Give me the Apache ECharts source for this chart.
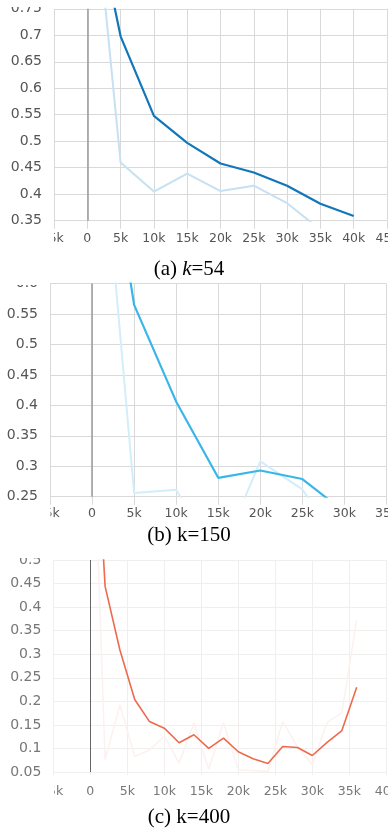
<!DOCTYPE html>
<html>
<head>
<meta charset="utf-8">
<script src="https://cdn.jsdelivr.net/npm/echarts@6/dist/echarts.min.js"></script>
<style>
html,body{margin:0;padding:0;background:#fff;}
#chart{width:388px;height:831px;}
</style>
</head>
<body>
<div id="chart"></div>
<script>
// Panel (a) k=54
const aSteps = [0, 5000, 10000, 15000, 20000, 25000, 30000, 35000, 40000];
const aSmoothed = [1.0, 0.698, 0.548, 0.497, 0.458, 0.441, 0.416, 0.382, 0.359];
const aRaw = [1.1, 0.46, 0.405, 0.439, 0.406, 0.416, 0.383, 0.333, 0.325];
// Panel (b) k=150
const bSteps = [0, 5000, 10000, 15000, 20000, 25000, 30000];
const bSmoothed = [1.0, 0.565, 0.406, 0.281, 0.293, 0.279, 0.225];
const bRaw = [1.04, 0.256, 0.2615, 0.146, 0.308, 0.262, 0.16];
// Panel (c) k=400
const cSteps = [0, 2000, 4000, 6000, 8000, 10000, 12000, 14000, 16000, 18000, 20000, 22000, 24000, 26000, 28000, 30000, 32000, 34000, 36000];
const cSmoothed = [1.0, 0.444, 0.309, 0.204, 0.157, 0.143, 0.112, 0.129, 0.100, 0.122, 0.093, 0.078, 0.068, 0.104, 0.102, 0.085, 0.113, 0.138, 0.230];
const cRaw = [1.0, 0.076, 0.193, 0.083, 0.097, 0.126, 0.069, 0.154, 0.056, 0.154, 0.055, 0.053, 0.051, 0.157, 0.104, 0.066, 0.155, 0.176, 0.373];
// Axis ranges / captions
const yRanges = [[0.35, 0.75], [0.25, 0.6], [0.05, 0.5]];
const xRanges = [[-5000, 45000], [-5000, 35000], [-5000, 40000]];
const captions = ['(a) {i|k}=54', '(b) k=150', '(c) k=400'];

const pair = (xs, ys) => xs.map((x, i) => [x, ys[i]]);
const kfmt = v => v === 0 ? '0' : (v / 1000) + 'k';

const grids = [
  {left: 54, top: 8.8, width: 333, height: 211.9},
  {left: 50, top: 283.5, width: 336.5, height: 213.2},
  {left: 53.3, top: 560, width: 333, height: 212}
];
const gridColors = ['#d9d9d9', '#d9d9d9', '#f1eeee'];
const labelColors = ['#555', '#555', '#777'];
const xMargins = [12, 11, 13];

const chart = echarts.init(document.getElementById('chart'), null, {renderer: 'canvas'});

const option = {
  animation: false,
  backgroundColor: '#fff',
  grid: grids.map(g => Object.assign({containLabel: false, outerBoundsMode: 'none'}, g)),
  xAxis: xRanges.map((r, i) => ({
    type: 'value', gridIndex: i, min: r[0], max: r[1], interval: 5000,
    axisLine: {show: false},
    axisTick: {show: true, length: i === 2 ? 3 : 8, lineStyle: {color: gridColors[i]}},
    splitLine: {show: true, lineStyle: {color: gridColors[i], width: 1}},
    axisLabel: {formatter: kfmt, color: labelColors[i], fontFamily: 'DejaVu Sans', fontSize: 12.5, margin: xMargins[i]}
  })),
  yAxis: yRanges.map((r, i) => ({
    type: 'value', gridIndex: i, min: r[0], max: r[1], interval: 0.05,
    axisLine: {show: false},
    axisTick: {show: true, length: 6, lineStyle: {color: gridColors[i]}},
    splitLine: {show: true, lineStyle: {color: gridColors[i], width: 1}},
    axisLabel: {color: labelColors[i], fontFamily: 'DejaVu Sans', fontSize: 14, margin: 12}
  })),
  series: [
    {type: 'line', xAxisIndex: 0, yAxisIndex: 0, data: pair(aSteps, aRaw), showSymbol: false, clip: true,
     lineStyle: {color: '#c6e1f1', width: 2}, z: 2,
     markLine: {silent: true, symbol: ['none', 'none'], label: {show: false}, lineStyle: {color: '#9a9a9a', width: 1.5, type: 'solid'}, data: [{xAxis: 0}]}},
    {type: 'line', xAxisIndex: 0, yAxisIndex: 0, data: pair(aSteps, aSmoothed), showSymbol: false, clip: true,
     lineStyle: {color: '#1176ba', width: 2.2}, z: 3},
    {type: 'line', xAxisIndex: 1, yAxisIndex: 1, data: pair(bSteps, bRaw), showSymbol: false, clip: true,
     lineStyle: {color: '#d2eefa', width: 2}, z: 2,
     markLine: {silent: true, symbol: ['none', 'none'], label: {show: false}, lineStyle: {color: '#9a9a9a', width: 1.5, type: 'solid'}, data: [{xAxis: 0}]}},
    {type: 'line', xAxisIndex: 1, yAxisIndex: 1, data: pair(bSteps, bSmoothed), showSymbol: false, clip: true,
     lineStyle: {color: '#38b6ea', width: 2.2}, z: 3},
    {type: 'line', xAxisIndex: 2, yAxisIndex: 2, data: pair(cSteps, cRaw), showSymbol: false, clip: true,
     lineStyle: {color: '#fcf1ee', width: 1.5}, z: 2,
     markLine: {silent: true, symbol: ['none', 'none'], label: {show: false}, lineStyle: {color: '#666', width: 1, type: 'solid'}, data: [{xAxis: 0}]}},
    {type: 'line', xAxisIndex: 2, yAxisIndex: 2, data: pair(cSteps, cSmoothed), showSymbol: false, clip: true,
     lineStyle: {color: '#ee6a4d', width: 1.6}, z: 3}
  ],
  graphic: [
    // white masks that crop the topmost y label and the leftmost x label, as in the screenshot
    {type: 'rect', z: 100, shape: {x: 0, y: 0, width: 53, height: 7}, style: {fill: '#fff'}},
    {type: 'rect', z: 100, shape: {x: 0, y: 232, width: 54, height: 18}, style: {fill: '#fff'}},
    {type: 'rect', z: 100, shape: {x: 0, y: 276, width: 48, height: 9}, style: {fill: '#fff'}},
    {type: 'rect', z: 100, shape: {x: 0, y: 507, width: 50.5, height: 18}, style: {fill: '#fff'}},
    {type: 'rect', z: 100, shape: {x: 0, y: 550, width: 52, height: 8}, style: {fill: '#fff'}},
    {type: 'rect', z: 100, shape: {x: 0, y: 783, width: 54, height: 18}, style: {fill: '#fff'}},
    ...captions.map((t, i) => ({
      type: 'text', z: 101, x: 189, y: [269, 535.5, 817.5][i],
      style: {text: t, align: 'center', verticalAlign: 'middle', fill: '#000',
        font: '21px "Liberation Serif"', fontFamily: 'Liberation Serif', fontSize: 21,
        rich: {i: {fontStyle: 'italic', fontFamily: 'Liberation Serif', fontSize: 21, fill: '#000'}}}
    }))
  ]
};
chart.setOption(option);
</script>
</body>
</html>
